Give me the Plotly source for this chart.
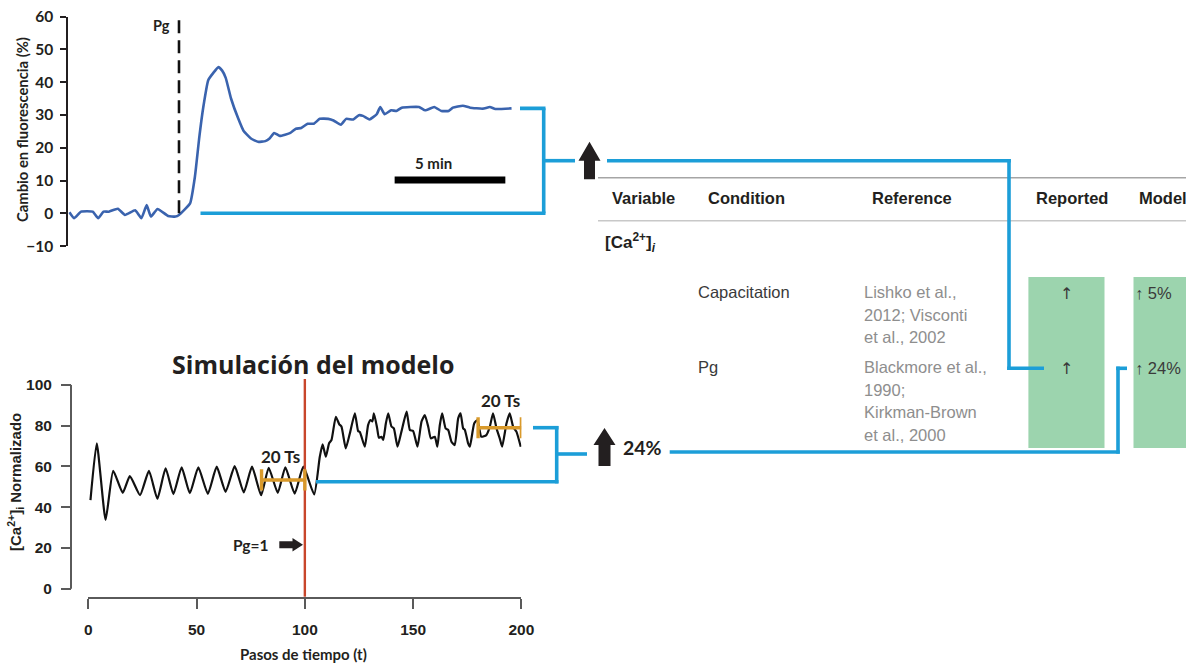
import plotly.graph_objects as go

W, H = 1186, 664

def X(px):
    return px / W

def Y(py):
    return 1 - py / H

# ---------------- data ----------------
# Top panel: fluorescence change (%) vs time (minutes)
TOP_T = [0.05, 0.26, 0.58, 1.10, 1.35, 1.59, 1.83, 2.24, 2.56, 3.02, 3.30, 3.54, 3.73, 4.03, 4.51,
         4.84, 5.0, 5.50, 5.72, 5.92, 6.10, 6.32, 6.55, 6.78, 6.95, 7.11, 7.35, 7.68, 7.92, 8.25,
         8.57, 8.90, 9.09, 9.30, 9.55, 10.03, 10.28, 10.52, 10.81, 11.09, 11.36, 11.74, 11.98, 12.31,
         12.55, 12.87, 13.12, 13.31, 13.60, 13.93, 14.09, 14.29, 14.58, 14.82, 15.06, 15.84, 16.12,
         16.53, 16.85, 17.18, 17.37, 17.82, 18.15, 18.72, 19.04, 19.29, 20.02]
TOP_V = [0.3, -1.5, 0.5, 0.5, -1.5, 0.5, 0.5, 1.4, -0.5, 0.9, -1.5, 2.5, -1.0, 1.3, -0.8,
         -1.0, -0.5, 3.0, 11.2, 23.4, 32.5, 40.6, 42.8, 44.6, 43.5, 41.3, 35.0, 28.8, 25.1, 22.8,
         21.8, 22.0, 22.8, 24.5, 23.6, 24.5, 25.8, 26.0, 27.3, 27.3, 28.8, 28.8, 28.3, 27.0,
         28.8, 28.6, 29.9, 29.7, 28.6, 30.2, 32.4, 30.2, 31.4, 31.2, 32.2, 32.4, 31.4,
         32.4, 31.2, 31.2, 32.2, 32.8, 32.2, 31.9, 32.4, 31.8, 32.0]
TOP_YTICKS = [-10, 0, 10, 20, 30, 40, 50, 60]
PG_TIME = 5.0
SCALE_BAR = (14.74, 19.74, 10.15)   # start, end (min), level
TOP_BASE, TOP_PLATEAU = 0.0, 32.0

# Bottom panel: model simulation
SIM_T = [1, 3.9, 8.0, 11.5, 15.9, 19.2, 23.9, 28, 31.9, 35.7, 39.3, 43.1, 46.9, 50.8, 55.2, 59.3,
         63.4, 67.6, 71.8, 75.6, 79.8, 83.3, 87.5, 91.0, 95.3, 99.3, 104.3, 106.9, 108.2, 109.7,
         111.2, 112.3, 114.3, 115.9, 116.9, 118.9, 120.8, 123.1, 124.6, 125.4, 127.7, 129.2, 130.3,
         131.2, 131.9, 133.4, 134.2, 135.4, 136.2, 137.4, 138.5, 140, 141.1, 142.8, 144.6, 147,
         148.5, 150, 152, 153.9, 155.4, 157, 158.2, 160, 161.2, 162.3, 163.4, 165, 166.2, 167.7,
         169.2, 170.8, 171.9, 173.1, 173.9, 175.4, 176.2, 178.2, 179.7, 181.5, 183.8, 185.4, 186.9,
         188.5, 190, 191.1, 193.1, 194.6, 196.2, 197.7, 199.7]
SIM_V = [43.4, 71.3, 33.7, 57.8, 47, 55.2, 45.9, 57.8, 44.1, 59, 46.4, 59.5, 46.8, 59.5, 46.5, 59.8,
         47.5, 60.1, 47.2, 59.8, 45.8, 59.3, 47, 59.5, 46.6, 59.8, 46.2, 64.7, 70.8, 64.7,
         71.3, 72.9, 84.3, 80.6, 79.5, 68.8, 76.2, 86, 77.3, 76.8, 69.6, 80.2, 82.7,
         82, 86, 78.6, 74, 74.5, 72.9, 81, 86, 79.5, 78.6, 69.6, 77, 86.8,
         77.8, 77.3, 69.6, 82, 85.1, 79.3, 73.7, 74.5, 69.6, 80, 86, 78.6, 77.8, 72,
         70.4, 83.5, 86, 78.6, 77.8, 71.2, 69.6, 81, 82.7, 74.5, 75.3, 79.3, 86,
         78.6, 73.7, 69.6, 81, 86, 79.3, 77, 69.6]
SIM_XTICKS = [0, 50, 100, 150, 200]
SIM_YTICKS = [0, 20, 40, 60, 80, 100]
PG_STEP = 100
WINDOWS = [(80, 100, 53.3), (180, 200, 78.9)]   # 20 Ts averaging windows (start, end, level)

# Table
HEADERS = ["Variable", "Condition", "Reference", "Reported", "Model"]
CONDITIONS = ["Capacitation", "Pg"]
REFERENCES = [["Lishko et al.,", "2012; Visconti", "et al., 2002"],
              ["Blackmore et al.,", "1990;", "Kirkman-Brown", "et al., 2000"]]
REPORTED = ["↑", "↑"]
MODEL = ["↑ 5%", "↑ 24%"]
MODEL_CHANGE = "24%"

# ---------------- style ----------------
TXT = "#231F20"
BLUE_LINK = "#1C9ED8"
TOP_LINE = "#3A63AE"
RED = "#C8462B"
ORANGE = "#D99A2B"
GREEN = "#9CD4AE"
AXGREY = "#5A5A5A"
MYR = "Lato"
HELV = "Liberation Sans"

fig = go.Figure()

fig.add_trace(go.Scatter(x=TOP_T, y=TOP_V, mode="lines", xaxis="x", yaxis="y",
                         line=dict(color=TOP_LINE, width=2.6, shape="spline", smoothing=0.4),
                         hoverinfo="skip"))
fig.add_trace(go.Scatter(x=SIM_T, y=SIM_V, mode="lines", xaxis="x2", yaxis="y2",
                         line=dict(color="#111111", width=2.2, shape="spline", smoothing=0.5),
                         hoverinfo="skip"))

x_top_right = 600
fig.update_layout(
    width=W, height=H, margin=dict(l=0, r=0, t=0, b=0, autoexpand=False),
    paper_bgcolor="white", plot_bgcolor="rgba(0,0,0,0)", showlegend=False,
    xaxis=dict(domain=[X(68.3), X(x_top_right)], range=[0, (x_top_right - 68.3) / 22.14],
               visible=False, anchor="y"),
    yaxis=dict(domain=[Y(246.1), Y(16.5)], range=[-10, 60], anchor="x",
               showline=True, linecolor=TXT, linewidth=2, ticks="outside", ticklen=6,
               tickwidth=2, tickcolor=TXT, tickvals=TOP_YTICKS, showgrid=False, zeroline=False,
               tickfont=dict(family=MYR, size=15.5, color=TXT, weight="bold"),
               ticklabelstandoff=4),
    xaxis2=dict(domain=[X(88.3), X(521.4)], range=[0, 200], anchor="y2",
                showline=True, linecolor=AXGREY, linewidth=2, ticks="outside", ticklen=10,
                tickwidth=2, tickcolor=AXGREY, tickvals=SIM_XTICKS, showgrid=False,
                zeroline=False, tickfont=dict(family=HELV, size=15.5, color=TXT, weight="bold"),
                ticklabelstandoff=8),
    yaxis2=dict(domain=[Y(596.7), Y(384.7)], range=[-3.92, 100], anchor="free",
                position=X(71), showline=False, ticks="outside", ticklen=10, tickwidth=2,
                tickcolor=AXGREY, tickvals=SIM_YTICKS, showgrid=False, zeroline=False,
                tickfont=dict(family=HELV, size=15.5, color=TXT, weight="bold"),
                ticklabelstandoff=6),
)

shapes = []

def pline(x0, y0, x1, y1, color=BLUE_LINK, width=3.6, xref="paper", yref="paper", dash=None, layer="above"):
    d = dict(type="line", x0=x0, y0=y0, x1=x1, y1=y1, xref=xref, yref=yref,
             line=dict(color=color, width=width), layer=layer)
    if dash:
        d["line"]["dash"] = dash
    shapes.append(d)

def path_shape(pts, color):
    p = "M " + " L ".join(f"{X(a):.5f},{Y(b):.5f}" for a, b in pts) + " Z"
    shapes.append(dict(type="path", path=p, xref="paper", yref="paper",
                       fillcolor=color, line=dict(width=0), layer="above"))

def up_arrow(cx, top, bottom, head_w, head_h, shaft_w, color=TXT):
    path_shape([(cx, top), (cx + head_w / 2, top + head_h), (cx + shaft_w / 2, top + head_h),
                (cx + shaft_w / 2, bottom), (cx - shaft_w / 2, bottom),
                (cx - shaft_w / 2, top + head_h), (cx - head_w / 2, top + head_h)], color)

def right_arrow(tail, tip, cy, head_l, head_w, shaft_w, color=TXT):
    path_shape([(tip, cy), (tip - head_l, cy - head_w / 2), (tip - head_l, cy - shaft_w / 2),
                (tail, cy - shaft_w / 2), (tail, cy + shaft_w / 2),
                (tip - head_l, cy + shaft_w / 2), (tip - head_l, cy + head_w / 2)], color)

# green highlight boxes (below everything)
for x0, x1 in [(1028.4, 1104.5), (1133.5, 1186)]:
    shapes.append(dict(type="rect", x0=X(x0), x1=X(x1), y0=Y(448), y1=Y(277), xref="paper",
                       yref="paper", fillcolor=GREEN, line=dict(width=0), layer="below"))

# table rules
pline(X(598), Y(177.7), X(1186), Y(177.7), color="#A5A5A5", width=1.5)
pline(X(598), Y(220.7), X(1186), Y(220.7), color="#C8C8C8", width=1.5)

# top panel: Pg dashed line, scale bar
pline(PG_TIME, 0, PG_TIME, 60, color="#111111", width=2.6, xref="x", yref="y", dash="13px,7px")
pline(SCALE_BAR[0], SCALE_BAR[2], SCALE_BAR[1], SCALE_BAR[2], color="#000000", width=7,
      xref="x", yref="y")

# top bracket connector
pline(X(520), TOP_PLATEAU, X(545.5), TOP_PLATEAU, yref="y")
pline(X(543.7), TOP_PLATEAU, X(543.7), TOP_BASE, yref="y")
pline(X(200.5), TOP_BASE, X(545.5), TOP_BASE, yref="y")
pline(X(543.7), Y(160.7), X(575), Y(160.7))
# link to table
pline(X(607), Y(160.7), X(1010.8), Y(160.7))
pline(X(1009), Y(159), X(1009), Y(370))
pline(X(1007.2), Y(368.3), X(1044), Y(368.3))

# bottom panel: red Pg line
pline(PG_STEP, Y(596.7), PG_STEP, Y(379), color=RED, width=2.4, xref="x2")
# bottom y axis line (0..100 only)
pline(X(71), 0, X(71), 100, color=AXGREY, width=2, yref="y2")
# 20 Ts windows
for a, b, lev in WINDOWS:
    pline(a, lev, b, lev, color=ORANGE, width=3.4, xref="x2", yref="y2")
    for xx in (a, b):
        pline(xx, lev - 5.2, xx, lev + 5.2, color=ORANGE, width=3.4, xref="x2", yref="y2")

# bottom bracket connector
pline(X(533), Y(427.7), X(558.5), Y(427.7))
pline(X(556.7), Y(426), X(556.7), Y(483.4))
pline(X(316), Y(481.7), X(558.5), Y(481.7))
pline(X(556.7), Y(454), X(587), Y(454))
# link to model column
pline(X(669.7), Y(452), X(1119.8), Y(452))
pline(X(1118), Y(453.7), X(1118), Y(366.6))
pline(X(1116.2), Y(368.3), X(1127), Y(368.3))

# block arrows
up_arrow(589.5, 141.7, 179.3, 22, 19, 11)
up_arrow(604.5, 428.0, 466.0, 22, 17, 12)
right_arrow(279.3, 303.0, 544.7, 10.5, 13.5, 7)

fig.update_layout(shapes=shapes)

ann = []

def text(px, py, s, size=15, family=MYR, bold=True, color=TXT, xanchor="center",
         yanchor="middle", angle=0):
    ann.append(dict(x=X(px), y=Y(py), xref="paper", yref="paper", text=s, showarrow=False,
                    xanchor=xanchor, yanchor=yanchor, textangle=angle,
                    font=dict(family=family, size=size, color=color,
                              weight="bold" if bold else "normal")))

# top panel text
text(22, 130, "Cambio en fluorescencia (%)", size=14.8, angle=-90)
text(161, 25, "Pg", size=14.5)
text(433, 163, "5 min", size=15)

# bottom panel text
text(313, 364, "Simulación del modelo", size=25, family="Open Sans")
text(15, 482, "[Ca<sup>2+</sup>]<sub>i</sub> Normalizado", size=15, family=HELV, angle=-90)
text(303.6, 654, "Pasos de tiempo (t)", size=15)
text(280, 456, "20 Ts", size=17)
text(501, 400, "20 Ts", size=17)
text(271, 545, "Pg=1", size=15.5, xanchor="right")
text(621, 447, MODEL_CHANGE, size=19.5, xanchor="left")

# table text
for s, px in zip(HEADERS, [610, 706, 870, 1034, 1137]):
    text(px, 198, s, size=16.5, family=HELV, xanchor="left")
text(603, 242, "[Ca<sup>2+</sup>]<sub><i>i</i></sub>", size=17, family=HELV, xanchor="left")
row_y = [292, 367]
for cond, refs, rep, mod, ry in zip(CONDITIONS, REFERENCES, REPORTED, MODEL, row_y):
    text(696, ry, cond, size=16.5, family=HELV, bold=False, color="#3A3A3A", xanchor="left")
    for i, line in enumerate(refs):
        text(862, ry + i * 22.7, line, size=16.5, family=HELV, bold=False, color="#8E8E8E",
             xanchor="left")
    text(1066, ry + 1.5, rep, size=16, family="DejaVu Sans", bold=False, color="#3A3A3A")
    text(1133, ry + 1, mod, size=16.5, family=HELV, bold=False, color="#3A3A3A", xanchor="left")

fig.update_layout(annotations=ann)

fig.write_html(
    "out.html",
    post_script="document.documentElement.style.margin='0';document.body.style.margin='0';"
                "document.body.style.padding='0';document.body.style.overflow='hidden';",
)
